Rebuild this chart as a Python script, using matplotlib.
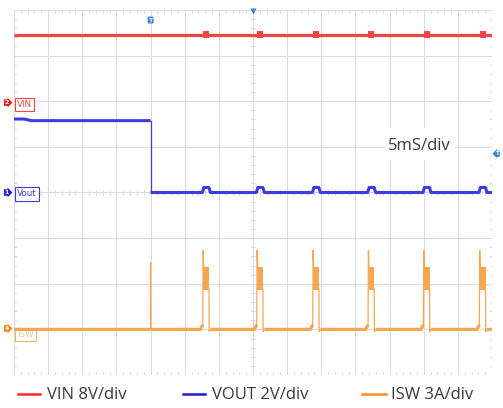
import numpy as np
import matplotlib
matplotlib.use('Agg')
import matplotlib.pyplot as plt
from matplotlib.lines import Line2D
from matplotlib.patches import Rectangle

# ---------------- data ----------------
ms_per_div = 5
n_xdiv, n_ydiv = 14, 8

vin_scale, vin_offset_div = 8, 6          # V/div, ground marker (div)
vout_scale, vout_offset_div = 2, 4
isw_scale, isw_offset_div = 3, 1

vin_level = 11.7                          # V
vin_bump = 0.6                            # V
vout_start = 3.22                         # V (first ~1.5 ms)
vout_high = 3.15                          # V
vout_low = 0.0
vout_bump = 0.22                          # V
trigger_t = 20.0                          # ms
pulse_t = [27.7, 35.6, 43.8, 51.9, 60.0, 68.2]   # ms
pulse_width = 0.85                        # ms
isw_band_low, isw_band_high = 2.6, 4.1    # A
isw_spike = 5.2                           # A
isw_trigger_spike = 4.4                   # A
isw_pre = 0.3                             # A

legend_labels = ["VIN 8V/div", "VOUT 2V/div", "ISW 3A/div"]
timebase_label = "5mS/div"

# ---------------- style ----------------
RED, BLUE, ORANGE = '#ef4545', '#3c3ce2', '#f5a650'
LRED, LBLUE, LORANGE = '#ff2a2a', '#1c1cd0', '#ff8a2a'
MBLUE = '#3d86d6'
GRID = '#dcdcdc'
TXT = '#3a3a3a'
FONT = 'Open Sans'

W, H = 503, 408
fig = plt.figure(figsize=(W / 100, H / 100), dpi=100)
L, R, T, B = 14, 492, 10, 375
ax = fig.add_axes([L / W, (H - B) / H, (R - L) / W, (B - T) / H])
tmax = n_xdiv * ms_per_div
ax.set_xlim(0, tmax)
ax.set_ylim(0, n_ydiv)
ax.axis('off')

def vin_d(v): return v / vin_scale + vin_offset_div
def vout_d(v): return v / vout_scale + vout_offset_div
def isw_d(a): return a / isw_scale + isw_offset_div

# grid
for i in range(n_xdiv + 1):
    ax.axvline(i * ms_per_div, color=GRID, lw=0.8, zorder=0)
for j in range(n_ydiv + 1):
    ax.axhline(j, color=GRID, lw=0.8, zorder=0)
# minor ticks on center lines and borders
tx = ms_per_div / 5
tlen_x = 0.06
tlen_y = 0.35
for k in range(n_xdiv * 5 + 1):
    x = k * tx
    ax.plot([x, x], [4 - tlen_x, 4 + tlen_x], color=GRID, lw=0.7, zorder=0)
    ax.plot([x, x], [0, tlen_x], color=GRID, lw=0.7, zorder=0)
    ax.plot([x, x], [n_ydiv - tlen_x, n_ydiv], color=GRID, lw=0.7, zorder=0)
for k in range(n_ydiv * 5 + 1):
    y = k / 5
    xc = n_xdiv / 2 * ms_per_div
    ax.plot([xc - tlen_y, xc + tlen_y], [y, y], color=GRID, lw=0.7, zorder=0)
    ax.plot([0, tlen_y], [y, y], color=GRID, lw=0.7, zorder=0)
    ax.plot([tmax - tlen_y, tmax], [y, y], color=GRID, lw=0.7, zorder=0)

# timebase box
ax.add_patch(Rectangle((54.3, 4.71), 10.3, 0.71, facecolor='white', edgecolor='none', zorder=1))
ax.text(59.4, 5.03, timebase_label, fontsize=12, family=FONT, color=TXT,
        ha='center', va='center', zorder=2)

# channel label boxes (under traces)
def chan_box(x, y, txt, ec, tc):
    ax.text(x, y, txt, fontsize=6.3, family='DejaVu Sans', color=tc, ha='left', va='center',
            zorder=2, bbox=dict(boxstyle='square,pad=0.25', fc='white', ec=ec, lw=0.8),
            clip_on=False)

chan_box(0.4, 5.93, 'VIN', RED, RED)
chan_box(0.4, 3.97, 'Vout', BLUE, BLUE)
chan_box(0.4, 0.89, 'ISW', '#f0b070', '#f5c898')

# left channel markers
def chan_marker(y, num, col):
    ax.text(-1.05, y, num, fontsize=4.5, color='white', weight='bold', ha='center', va='center',
            zorder=6, clip_on=False,
            bbox=dict(boxstyle='rarrow,pad=0.12', fc=col, ec='none'))

chan_marker(vin_offset_div - 0.03, '2', '#e82020')
chan_marker(vout_offset_div, '1', '#2020d8')
chan_marker(isw_offset_div + 0.02, '4', '#f08a20')

# ---- ISW trace ----
base_x, base_y = [0.0], [isw_d(0)]
spikes = []
base_x += [trigger_t - 0.02, np.nan, trigger_t + 0.05]
base_y += [isw_d(0), np.nan, isw_d(0)]
spikes.append(([trigger_t - 0.02, trigger_t, trigger_t + 0.03],
               [isw_d(0), isw_d(isw_trigger_spike), isw_d(0)]))
for p in pulse_t:
    base_x += [p - 0.4, p - 0.05, np.nan, p + pulse_width + 0.25]
    base_y += [isw_d(0), isw_d(isw_pre), np.nan, isw_d(0)]
    spikes.append(([p - 0.05, p, p + 0.08, p + pulse_width, p + pulse_width + 0.03, p + pulse_width + 0.25],
                   [isw_d(isw_pre), isw_d(isw_spike), isw_d(isw_band_high), isw_d(isw_band_low),
                    isw_d(-0.15), isw_d(0)]))
    ax.fill_between([p + 0.05, p + pulse_width], isw_d(isw_band_low), isw_d(isw_band_high),
                    color=ORANGE, lw=0, zorder=3)
base_x += [tmax]
base_y += [isw_d(0)]
ax.plot(base_x, base_y, color=ORANGE, lw=2.3, zorder=3, solid_capstyle='butt')
for sx, sy in spikes:
    ax.plot(sx, sy, color=ORANGE, lw=0.9, zorder=3)

# ---- VOUT trace ----
vx = [0.0, 1.5, 2.5, trigger_t]
vy = [vout_d(vout_start), vout_d(vout_start), vout_d(vout_high), vout_d(vout_high)]
ax.plot(vx, vy, color=BLUE, lw=2.2, zorder=4, solid_capstyle='butt')
ax.plot([trigger_t, trigger_t], [vout_d(vout_high), vout_d(vout_low)], color=BLUE, lw=0.9, zorder=4)
lx, ly = [trigger_t], [vout_d(vout_low)]
for p in pulse_t:
    lx += [p - 0.1, p + 0.1, p + pulse_width, p + pulse_width + 0.2]
    ly += [vout_d(vout_low), vout_d(vout_bump), vout_d(vout_bump), vout_d(vout_low)]
lx += [tmax]
ly += [vout_d(vout_low)]
ax.plot(lx, ly, color=BLUE, lw=2.2, zorder=4, solid_capstyle='butt')

# ---- VIN trace ----
ax.plot([0, tmax], [vin_d(vin_level)] * 2, color=RED, lw=2.3, zorder=5, solid_capstyle='butt')
for p in pulse_t:
    ax.fill_between([p, p + pulse_width], vin_d(vin_level - vin_bump), vin_d(vin_level + vin_bump),
                    color=RED, lw=0, zorder=5)

# trigger markers
ax.text(trigger_t, 7.78, 'T', fontsize=4.5, color='white', weight='bold', ha='center', va='center',
        zorder=6, bbox=dict(boxstyle='round,pad=0.15', fc=MBLUE, ec='none'))
ax.plot([n_xdiv / 2 * ms_per_div], [n_ydiv - 0.02], marker='v', color=MBLUE, ms=4.5,
        zorder=6, clip_on=False, mec='none')
ax.text(tmax + 0.8, 4.85, 'T', fontsize=4, color='white', weight='bold', ha='center', va='center',
        zorder=6, clip_on=False, bbox=dict(boxstyle='larrow,pad=0.1', fc=MBLUE, ec='none'))

# ---- legend ----
ly_px = 394
items = [(18, 40, 47, LRED), (183, 205, 212, LBLUE), (362, 386, 391, LORANGE)]
for (x0, x1, xt, col), lab in zip(items, legend_labels):
    fig.add_artist(Line2D([x0 / W, x1 / W], [(H - ly_px) / H] * 2, color=col, lw=1.8,
                          transform=fig.transFigure))
    fig.text(xt / W, (H - ly_px - 1) / H, lab, fontsize=12, family=FONT, color=TXT,
             ha='left', va='center')

fig.savefig('out.png', dpi=100, facecolor='white')
